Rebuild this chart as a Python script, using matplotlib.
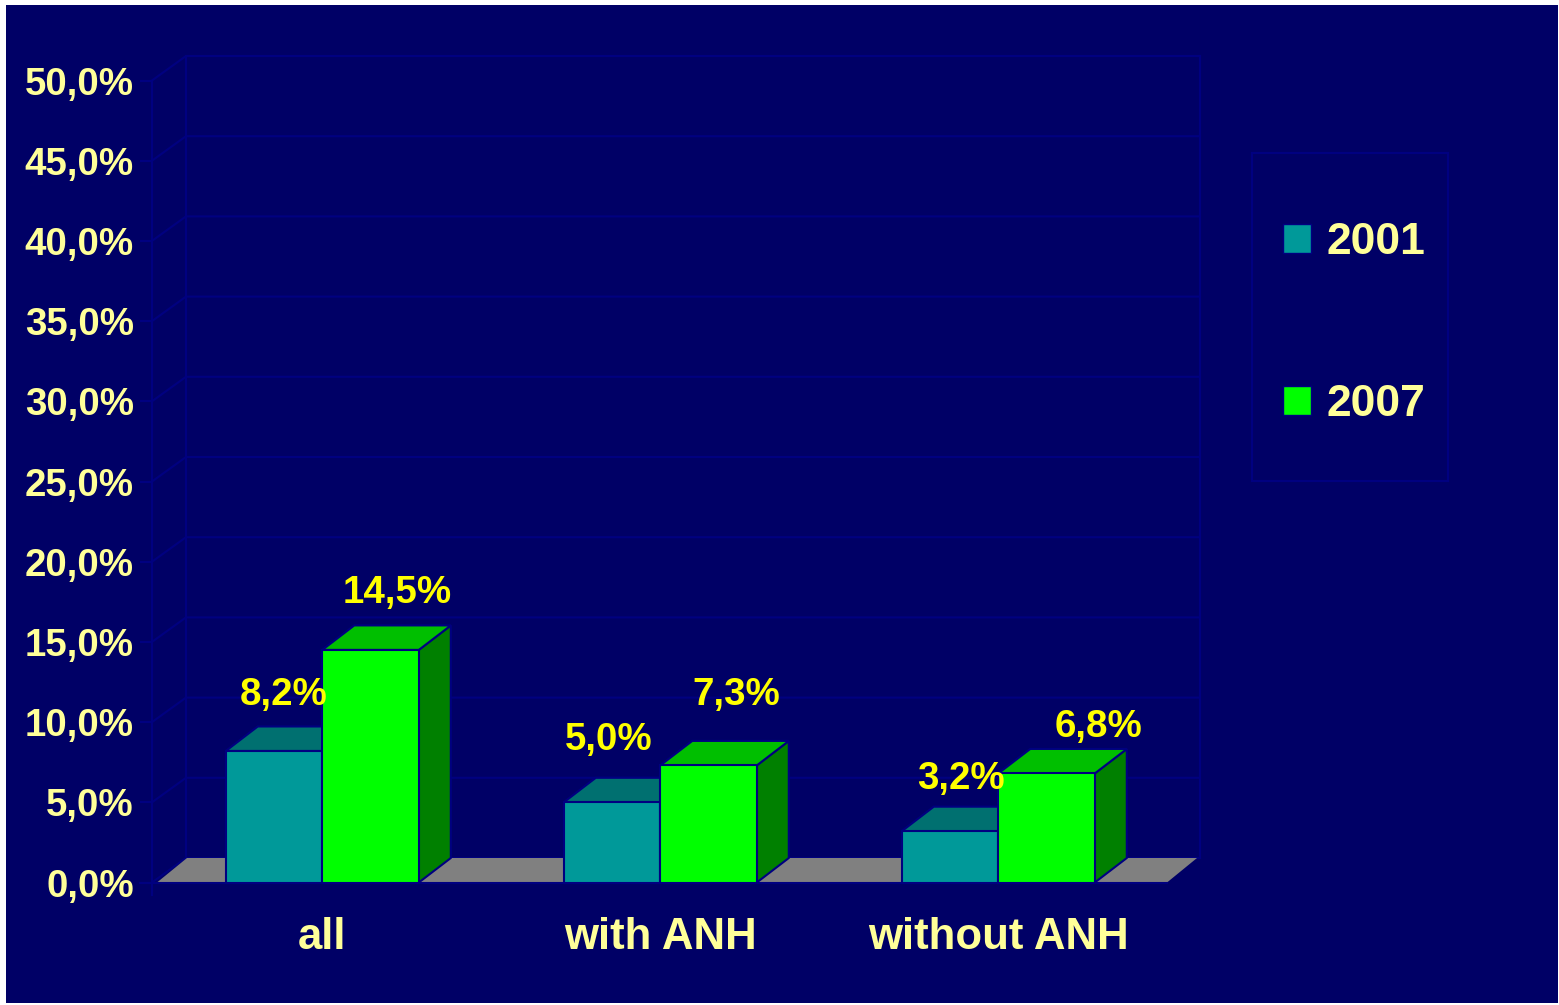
import numpy as np
import matplotlib
matplotlib.use('Agg')
import matplotlib.pyplot as plt
from matplotlib.patches import Patch, Rectangle

plt.rcParams['font.family'] = ['Liberation Sans', 'DejaVu Sans']
plt.rcParams['font.weight'] = 'bold'

# datos
categorias = ['all', 'with ANH', 'without ANH']
series = ['2001', '2007']
valores_2001 = [8.2, 5.0, 3.2]
valores_2007 = [14.5, 7.3, 6.8]
etiquetas_y = [0, 5, 10, 15, 20, 25, 30, 35, 40, 45, 50]

# colores
FONDO = '#000066'
LINEA = '#000080'
CREMA = '#FFFF99'
AMARILLO = '#FFFF00'
GRIS = '#808080'
TEAL = ['#009999', '#007070']
VERDE = ['#00FF00', '#00BF00', '#008000']

# escala en pixeles de la imagen
W, H = 1559, 1005
PX_CAT = 338
PX_Y = 16.04
X0, Y0 = 322.3, 882.5
DX = 32 / PX_CAT
DY = 24.5 / PX_Y
ANCHO = 96.5 / PX_CAT
LW = 1.5

fig = plt.figure(figsize=(W / 100, H / 100), dpi=100, facecolor='white')
izq, der, arr, aba = 6, 1558, 5, 1003
ax = fig.add_axes([izq / W, 1 - aba / H, (der - izq) / W, (aba - arr) / H])
ax.set_facecolor(FONDO)
ax.set_xlim((izq - X0) / PX_CAT, (der - X0) / PX_CAT)
ax.set_ylim((Y0 - aba) / PX_Y, (Y0 - arr) / PX_Y)


def px_x(p):
    return (p - X0) / PX_CAT


for s in ax.spines.values():
    s.set_visible(False)
ax.spines['left'].set_position(('data', px_x(152)))
ax.spines['bottom'].set_position(('data', 0))

# ejes
ax.set_yticks(etiquetas_y)
ax.set_yticklabels([('%.1f%%' % v).replace('.', ',') for v in etiquetas_y])
ax.tick_params(axis='y', colors=LINEA, labelcolor=CREMA, labelsize=27.7, length=8.6, width=LW, pad=4.5)
ax.set_xticks(range(len(categorias)))
ax.set_xticklabels(categorias)
ax.tick_params(axis='x', length=0, labelcolor=CREMA, labelsize=31.5, pad=24.5)

# paredes y rejilla
xa, xb = px_x(152), px_x(186)
xd = px_x(1200)
for v in etiquetas_y:
    ax.plot([xa, xb, xd], [v, v + DY, v + DY], color=LINEA, lw=LW, zorder=1, solid_joinstyle='miter')
ax.plot([xa, xa], [-0.8, 50], color=LINEA, lw=LW, zorder=1)
ax.plot([xb, xb], [DY, 50 + DY], color=LINEA, lw=LW, zorder=1)
ax.plot([xd, xd], [DY, 50 + DY], color=LINEA, lw=LW, zorder=1)
ax.fill([px_x(157), px_x(187), px_x(1197), px_x(1167)], [0, DY, DY, 0], color=GRIS, lw=0, zorder=2)
ax.plot([px_x(140), px_x(1167)], [0, 0], color=LINEA, lw=LW, zorder=2)

# barras
x = np.arange(len(categorias))
borde = dict(edgecolor=LINEA, linewidth=1.5, joinstyle='miter')
for i in range(len(categorias)):
    v1 = valores_2001[i]
    v2 = valores_2007[i]
    l1 = x[i] - ANCHO
    ax.fill([l1, l1 + DX, l1 + ANCHO + DX, l1 + ANCHO], [v1, v1 + DY, v1 + DY, v1],
            facecolor=TEAL[1], zorder=3, **borde)
    ax.bar(l1, v1, ANCHO, align='edge', color=TEAL[0], zorder=3, **borde)
    r = x[i] + ANCHO
    ax.fill([r, r + DX, r + DX, r], [0, DY, v2 + DY, v2], facecolor=VERDE[2], zorder=4, **borde)
    ax.fill([x[i], x[i] + DX, r + DX, r], [v2, v2 + DY, v2 + DY, v2], facecolor=VERDE[1], zorder=4, **borde)
    ax.bar(x[i], v2, ANCHO, align='edge', color=VERDE[0], zorder=4, **borde)

# etiquetas de datos
desp_2001 = [(10, 56), (-3, 62), (11, 52)]
desp_2007 = [(27, 57), (28, 70), (52, 46)]
for i in range(len(categorias)):
    for val, cx, d in [(valores_2001[i], x[i] - ANCHO / 2, desp_2001[i]),
                       (valores_2007[i], x[i] + ANCHO / 2, desp_2007[i])]:
        ax.annotate(('%.1f%%' % val).replace('.', ','), (cx, val),
                    xytext=(d[0] * 0.72, d[1] * 0.72), textcoords='offset points',
                    ha='center', va='center', color=AMARILLO, fontsize=27.7, zorder=6)

# leyenda
fig.add_artist(Rectangle((1252 / W, 1 - 481 / H), 196 / W, 328 / H, transform=fig.transFigure,
                         facecolor='none', edgecolor=LINEA, lw=LW))
handles = [Patch(facecolor=TEAL[0], edgecolor=LINEA, lw=1), Patch(facecolor=VERDE[0], edgecolor=LINEA, lw=1)]
fig.legend(handles, series, loc='upper left', bbox_to_anchor=(1283 / W, 1 - 222 / H),
           fontsize=32, labelcolor=CREMA, frameon=False, borderaxespad=0, borderpad=0,
           handlelength=0.64, handleheight=0.64, handletextpad=0.35, labelspacing=2.72)

fig.savefig('out.png', dpi=100, facecolor='white')
